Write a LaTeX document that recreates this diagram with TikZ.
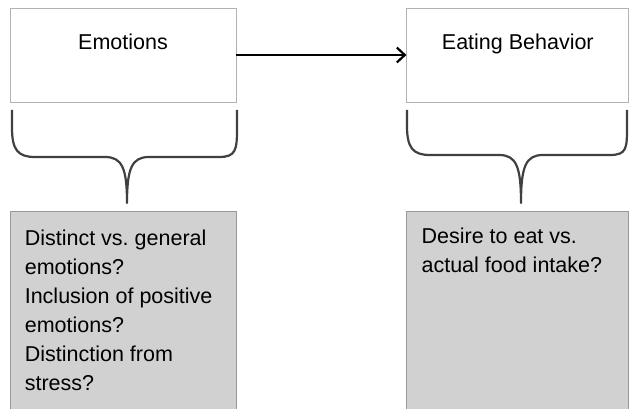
\documentclass[tikz,border=0pt]{standalone}
\usepackage{fontspec}
\setmainfont{Liberation Sans}
\usetikzlibrary{arrows.meta, positioning}
\frenchspacing

\begin{document}
\begin{tikzpicture}[x=1pt, y=-1pt,
  topbox/.style={draw=black!30, line width=0.8pt, fill=white, minimum width=226pt, minimum height=94pt, inner sep=0pt},
  qbox/.style={draw=black!40, line width=0.8pt, fill=black!18, minimum width=226pt, minimum height=198pt, inner sep=0pt},
  lbl/.style={font=\fontsize{21.5}{25}\selectfont, anchor=base, inner sep=0pt},
  qtext/.style={font=\fontsize{21.5}{29}\selectfont, align=left, anchor=north west, inner sep=0pt},
  brace/.style={draw=black!75, line width=2.2pt, line join=round}
]
  \useasboundingbox (0,0) rectangle (629,409);

  % top boxes
  \node[topbox] (emo) at (123,55) {};
  \node[topbox, minimum width=222pt, right=170pt of emo] (eat) {};
  \node[lbl] (emolbl) at ([yshift=-42pt]emo.north) {Emotions};
  \node[lbl] (eatlbl) at ([yshift=-42pt]eat.north) {Eating Behavior};

  % arrow
  \draw[line width=2.2pt, -{Straight Barb[length=8pt, width=15pt]}] (emo.east) -- (eat.west);

  % braces
  \draw[brace] (12,110) -- (12,128) .. controls (12,150) and (18,157) .. (35,157) -- (105,157)
    .. controls (122,157) and (127,168) .. (127,203)
    .. controls (127,168) and (132,157) .. (149,157) -- (219,157)
    .. controls (236,157) and (237,150) .. (237,128) -- (237,110);
  \draw[brace] (407,110) -- (407,126) .. controls (407,148) and (413,155) .. (430,155) -- (499,155)
    .. controls (516,155) and (521,166) .. (521,203)
    .. controls (521,166) and (526,155) .. (543,155) -- (610,155)
    .. controls (627,155) and (627,148) .. (627,126) -- (627,110);

  % question boxes
  \node[qbox, below=109pt of emo] (q1) {};
  \node[qbox, minimum width=222pt, below=109pt of eat] (q2) {};
  \node[qtext] (q1txt) at ([xshift=15pt, yshift=-18pt]q1.north west)
    {Distinct vs. general\\emotions?\\Inclusion of positive\\emotions?\\Distinction from\\stress?};
  \node[qtext] (q2txt) at ([xshift=15pt, yshift=-16pt]q2.north west)
    {Desire to eat vs.\\actual food intake?};
\end{tikzpicture}
\end{document}
